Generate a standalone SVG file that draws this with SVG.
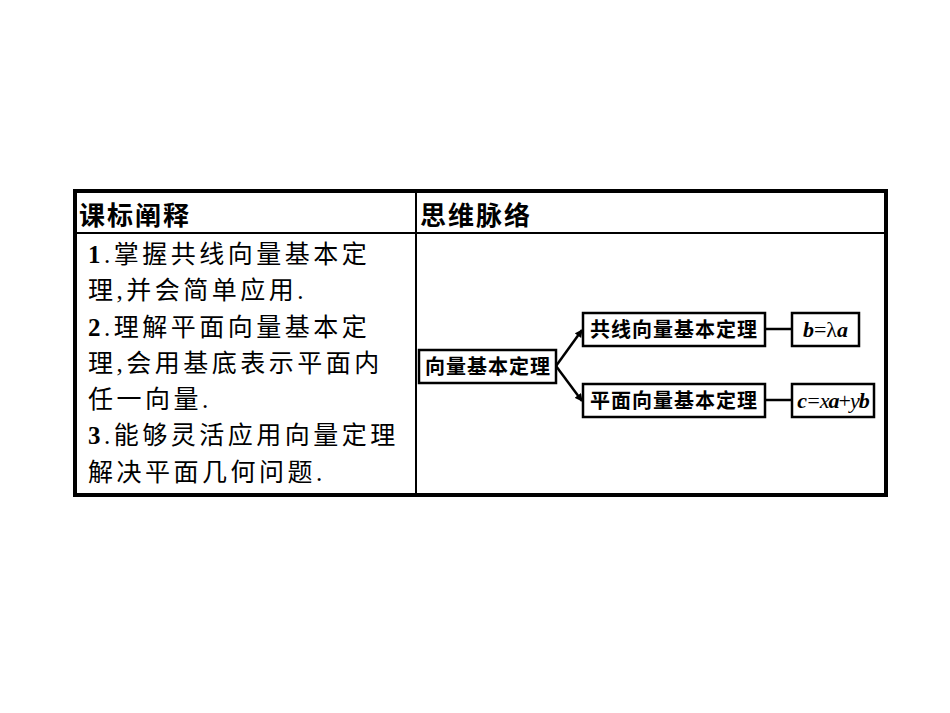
<svg xmlns="http://www.w3.org/2000/svg" width="950" height="713" viewBox="0 0 950 713">
<style>
.t{font-family:"Liberation Serif","Noto Sans CJK SC",serif;font-size:25px;letter-spacing:3.5px;fill:#000}
.h{font-family:"Liberation Sans","Noto Sans CJK SC",sans-serif;font-size:26px;letter-spacing:2px;font-weight:bold;fill:#000}
.n{font-family:"Liberation Sans","Noto Sans CJK SC",sans-serif;font-size:20px;letter-spacing:1px;font-weight:bold;fill:#000}
.f{font-family:"Liberation Serif",serif;font-size:22px;font-weight:bold;font-style:italic;fill:#000}
.b{fill:#fff;stroke:#000;stroke-width:2.5}
</style>
<defs><marker id="ar" markerWidth="8" markerHeight="8" refX="7" refY="4" orient="auto" markerUnits="userSpaceOnUse"><path d="M0,0 L8,4 L0,8 Z" fill="#000"/></marker></defs>
<rect x="75" y="192" width="810" height="302" fill="#fff" stroke="#000" stroke-width="2"/>
<rect x="73" y="189" width="815" height="4" fill="#000"/>
<rect x="73" y="189" width="4" height="308" fill="#000"/>
<rect x="73" y="493" width="815" height="4" fill="#000"/>
<rect x="884" y="189" width="4" height="308" fill="#000"/>
<line x1="75" y1="233" x2="886" y2="233" stroke="#000" stroke-width="2"/>
<line x1="416" y1="191" x2="416" y2="495" stroke="#000" stroke-width="2"/>
<text class="h" x="79" y="225">课标阐释</text>
<text class="h" x="420" y="225">思维脉络</text>
<g class="t">
<text x="88" y="263"><tspan font-weight="bold">1</tspan>.掌握共线向量基本定</text>
<text x="88" y="299">理,并会简单应用.</text>
<text x="88" y="336"><tspan font-weight="bold">2</tspan>.理解平面向量基本定</text>
<text x="88" y="372">理,会用基底表示平面内</text>
<text x="88" y="408">任一向量.</text>
<text x="88" y="444"><tspan font-weight="bold">3</tspan>.能够灵活应用向量定理</text>
<text x="88" y="481">解决平面几何问题.</text>
</g>
<g id="connectors" stroke="#000" stroke-width="2.5" fill="none">
<line x1="556" y1="366" x2="582" y2="330" marker-end="url(#ar)"/>
<line x1="556" y1="366" x2="582" y2="401" marker-end="url(#ar)"/>
<line x1="765" y1="329" x2="792" y2="329"/>
<line x1="765" y1="400" x2="792" y2="400"/>
</g>
<g id="n1"><rect class="b" x="419" y="350" width="137" height="33"/><text class="n" x="488" y="374" text-anchor="middle">向量基本定理</text></g>
<g id="n2"><rect class="b" x="583" y="313" width="182" height="33"/><text class="n" x="674" y="337" text-anchor="middle">共线向量基本定理</text></g>
<g id="n3"><rect class="b" x="583" y="384" width="182" height="33"/><text class="n" x="674" y="408" text-anchor="middle">平面向量基本定理</text></g>
<g id="n4"><rect class="b" x="792" y="313" width="67" height="33"/><text class="f" x="825.5" y="337" text-anchor="middle">b<tspan font-weight="normal" font-style="normal">=λ</tspan>a</text></g>
<g id="n5"><rect class="b" x="792" y="384" width="82" height="33"/><text class="f" x="833" y="408" text-anchor="middle" letter-spacing="-1">c<tspan font-weight="normal">=x</tspan>a<tspan font-weight="normal" font-style="normal">+</tspan><tspan font-weight="normal">y</tspan>b</text></g>
</svg>
